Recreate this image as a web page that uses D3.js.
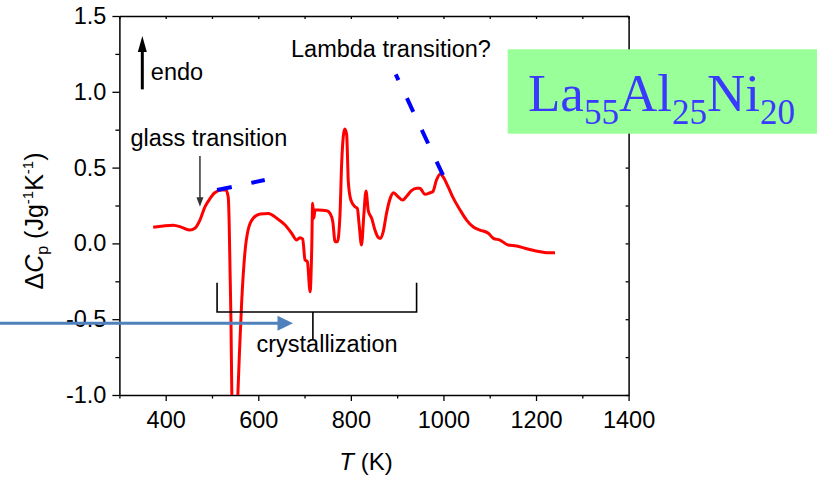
<!DOCTYPE html>
<html>
<head>
<meta charset="utf-8">
<script src="https://cdn.jsdelivr.net/npm/d3@7"></script>
<style>
  body { margin: 0; background: #fff; }
  svg { display: block; font-family: "Liberation Sans", Arial, sans-serif; }
</style>
</head>
<body>
<script>
// DSC trace of La55Al25Ni20: excess heat capacity vs temperature
const temperatureK = [
  373, 395, 416, 435, 452, 463, 474, 485, 496, 506, 521, 530, 535, 537, 539, 541,
  543, 549, 555.5, 559, 564, 571, 578, 589, 604, 622, 640, 658, 672, 683, 690, 696,
  701, 706, 712, 715.5, 717.5, 720, 722.5, 730, 748, 755, 761, 766, 771, 776.5, 780,
  784, 787, 791, 794.5, 800, 809, 814, 818, 823, 828, 832.7, 837.7, 845, 852, 859,
  864, 870, 877, 885, 892, 902, 912, 921, 931, 942, 949, 960, 971, 977, 985, 993,
  1000, 1010, 1021, 1036, 1050, 1064, 1079, 1097, 1108, 1122, 1140, 1158, 1176,
  1191, 1209, 1223, 1241
];
const deltaCp = [
  0.106, 0.115, 0.120, 0.106, 0.088, 0.100, 0.154, 0.242, 0.297, 0.334, 0.352, 0.352,
  0.308, 0.154, -0.175, -0.505, -1.03, -1.50, -1.03, -0.747, -0.395, -0.065, 0.088,
  0.166, 0.194, 0.198, 0.166, 0.121, 0.067, 0.022, 0.038, 0.029, -0.109, -0.120,
  -0.319, -0.032, 0.265, 0.166, 0.220, 0.220, 0.216, 0.198, 0.143, 0.011, 0.011,
  0.187, 0.517, 0.715, 0.755, 0.715, 0.407, 0.286, 0.242, 0.231, 0.121, -0.011,
  0.187, 0.345, 0.215, 0.166, 0.088, 0.040, 0.033, 0.077, 0.198, 0.297, 0.334,
  0.308, 0.286, 0.313, 0.348, 0.363, 0.363, 0.324, 0.334, 0.341, 0.418, 0.458,
  0.436, 0.374, 0.300, 0.220, 0.154, 0.110, 0.088, 0.067, 0.033, 0.022, -0.011,
  -0.017, -0.032, -0.044, -0.055, -0.061, -0.061
];

// Axis ticks
const xMajorTicks = [400, 600, 800, 1000, 1200, 1400];
const xMinorTicks = [300, 500, 700, 900, 1100, 1300];
const yMajorTicks = [-1.0, -0.5, 0.0, 0.5, 1.0, 1.5];
const yMinorTicks = [-0.75, -0.25, 0.25, 0.75, 1.25];

// Guide lines (dashed blue): extrapolated baselines
const glassGuideT = [511, 614];
const glassGuideCp = [0.352, 0.418];
const lambdaGuideT = [999, 897];
const lambdaGuideCp = [0.45, 1.115];

// Crystallization bracket extents
const bracketT = [511, 942];
const bracketCenterT = 718;

const W = 817, H = 481;
const plot = { left: 119.4, right: 628.6, top: 16, bottom: 395 };

const x = d3.scaleLinear().domain([300, 1400]).range([plot.left, plot.right]);
const y = d3.scaleLinear().domain([-1, 1.5]).range([plot.bottom, plot.top]);

const svg = d3.select("body").append("svg").attr("width", W).attr("height", H);

const fmtY = d => d.toFixed(1);
const FS = 23.5;

function styleAxis(g, withText) {
  g.select(".domain").attr("stroke", "#000").attr("stroke-width", 1.5);
  g.selectAll(".tick line").attr("stroke", "#000").attr("stroke-width", 1.3);
  if (withText) g.selectAll(".tick text").attr("font-size", FS).attr("fill", "#000")
    .attr("font-family", "'Liberation Sans', Arial, sans-serif");
  else g.selectAll(".tick text").remove();
}

// Bottom axis
svg.append("g").attr("transform", `translate(0,${plot.bottom})`)
  .call(d3.axisBottom(x).tickValues(xMajorTicks).tickSizeInner(6).tickSizeOuter(0).tickPadding(10.5).tickFormat(d3.format("d")))
  .call(g => styleAxis(g, true));
svg.append("g").attr("transform", `translate(0,${plot.bottom})`)
  .call(d3.axisBottom(x).tickValues(xMinorTicks).tickSizeInner(3.5).tickSizeOuter(0))
  .call(g => { g.select(".domain").remove(); styleAxis(g, false); });

// Top mirror axis (inward ticks)
svg.append("g").attr("transform", `translate(0,${plot.top})`)
  .call(d3.axisTop(x).tickValues(xMajorTicks.concat(xMinorTicks)).tickSizeInner(-3).tickSizeOuter(0))
  .call(g => styleAxis(g, false));

// Left axis
svg.append("g").attr("transform", `translate(${plot.left},0)`)
  .call(d3.axisLeft(y).tickValues(yMajorTicks).tickSizeInner(7).tickSizeOuter(0).tickPadding(6).tickFormat(fmtY))
  .call(g => styleAxis(g, true));
svg.append("g").attr("transform", `translate(${plot.left},0)`)
  .call(d3.axisLeft(y).tickValues(yMinorTicks).tickSizeInner(4).tickSizeOuter(0))
  .call(g => { g.select(".domain").remove(); styleAxis(g, false); });

// Right mirror axis (inward ticks)
svg.append("g").attr("transform", `translate(${plot.right},0)`)
  .call(d3.axisRight(y).tickValues(yMajorTicks.concat(yMinorTicks)).tickSizeInner(-3).tickSizeOuter(0))
  .call(g => styleAxis(g, false));

// Axis titles
svg.append("text")
  .attr("x", 366).attr("y", 470).attr("text-anchor", "middle").attr("font-size", 24)
  .call(t => {
    t.append("tspan").attr("font-style", "italic").text("T");
    t.append("tspan").text(" (K)");
  });

svg.append("text")
  .attr("transform", "translate(43,221) rotate(-90)")
  .attr("text-anchor", "middle").attr("font-size", 25)
  .call(t => {
    t.append("tspan").text("\u0394");
    t.append("tspan").attr("font-style", "italic").text("C");
    t.append("tspan").attr("font-size", 16).attr("dy", 5).text("p");
    t.append("tspan").attr("dy", -5).text(" (Jg");
    t.append("tspan").attr("font-size", 15).attr("dy", -10).text("-1");
    t.append("tspan").attr("dy", 10).text("K");
    t.append("tspan").attr("font-size", 15).attr("dy", -10).text("-1");
    t.append("tspan").attr("dy", 10).text(")");
  });

// Clip for the trace
svg.append("clipPath").attr("id", "plotClip").append("rect")
  .attr("x", plot.left).attr("y", plot.top)
  .attr("width", plot.right - plot.left).attr("height", plot.bottom - plot.top);

const traceData = temperatureK.map((t, i) => ({ t, v: deltaCp[i] }));
const line = d3.line().x(d => x(d.t)).y(d => y(d.v)).curve(d3.curveMonotoneX);

svg.append("path").datum(traceData)
  .attr("clip-path", "url(#plotClip)")
  .attr("d", line)
  .attr("fill", "none").attr("stroke", "#ff0000").attr("stroke-width", 3)
  .attr("stroke-linejoin", "round");

// Dashed guide lines
const guideLine = d3.line().x(d => x(d.t)).y(d => y(d.v));
[[glassGuideT, glassGuideCp], [lambdaGuideT, lambdaGuideCp]].forEach(([ts, vs]) => {
  svg.append("path").datum(ts.map((t, i) => ({ t, v: vs[i] })))
    .attr("d", guideLine)
    .attr("fill", "none").attr("stroke", "#0000ff").attr("stroke-width", 4)
    .attr("stroke-dasharray", "15,20");
});

// "endo" arrow
const endoT = 349.5;
svg.append("line")
  .attr("x1", x(endoT)).attr("x2", x(endoT))
  .attr("y1", y(1.016)).attr("y2", y(1.27))
  .attr("stroke", "#000").attr("stroke-width", 3);
svg.append("path")
  .attr("d", `M${x(endoT)},${y(1.368)} L${x(endoT) - 4.5},${y(1.262)} L${x(endoT) + 4.5},${y(1.262)} Z`)
  .attr("fill", "#000");
svg.append("text").attr("x", x(endoT) + 8.5).attr("y", 80).attr("font-size", FS).text("endo");

// Glass transition label and pointer
svg.append("text").attr("x", 130.5).attr("y", 146).attr("font-size", FS).text("glass transition");
const gtT = 474;
svg.append("line")
  .attr("x1", x(gtT)).attr("x2", x(gtT))
  .attr("y1", y(0.577)).attr("y2", y(0.30))
  .attr("stroke", "#333").attr("stroke-width", 1.5);
svg.append("path")
  .attr("d", `M${x(gtT)},${y(0.242)} L${x(gtT) - 3.5},${y(0.305)} L${x(gtT) + 3.5},${y(0.305)} Z`)
  .attr("fill", "#333");

// Lambda transition label
svg.append("text").attr("x", 291).attr("y", 57).attr("font-size", FS).text("Lambda transition?");

// Crystallization bracket
svg.append("path")
  .attr("d", `M${x(bracketT[0])},${y(-0.26)} V${y(-0.453)} H${x(bracketT[1])} V${y(-0.26)}`)
  .attr("fill", "none").attr("stroke", "#000").attr("stroke-width", 1.6);
svg.append("line")
  .attr("x1", x(bracketCenterT)).attr("x2", x(bracketCenterT))
  .attr("y1", y(-0.453)).attr("y2", y(-0.63))
  .attr("stroke", "#000").attr("stroke-width", 1.6);
svg.append("text").attr("x", 256.5).attr("y", 352).attr("font-size", FS).text("crystallization");

// Heating direction arrow
const arrowY = 323.3;
svg.append("line").attr("x1", 0).attr("x2", 279).attr("y1", arrowY).attr("y2", arrowY)
  .attr("stroke", "#4f81bd").attr("stroke-width", 3);
svg.append("path")
  .attr("d", `M293,${arrowY} L277.5,${arrowY - 7.5} L277.5,${arrowY + 7.5} Z`)
  .attr("fill", "#4f81bd");

// Composition tag
svg.append("rect").attr("x", 507.7).attr("y", 49.3).attr("width", 817 - 507.7).attr("height", 84.4)
  .attr("fill", "#99ff99");
svg.append("text").attr("x", 528).attr("y", 111)
  .attr("font-family", "'Liberation Serif', 'Times New Roman', serif")
  .attr("font-size", 53).attr("fill", "#3a3aff")
  .call(t => {
    t.append("tspan").text("La");
    t.append("tspan").attr("font-size", 35).attr("dy", 13).text("55");
    t.append("tspan").attr("dy", -13).text("Al");
    t.append("tspan").attr("font-size", 35).attr("dy", 13).text("25");
    t.append("tspan").attr("dy", -13).text("Ni");
    t.append("tspan").attr("font-size", 35).attr("dy", 13).text("20");
  });
</script>
</body>
</html>
